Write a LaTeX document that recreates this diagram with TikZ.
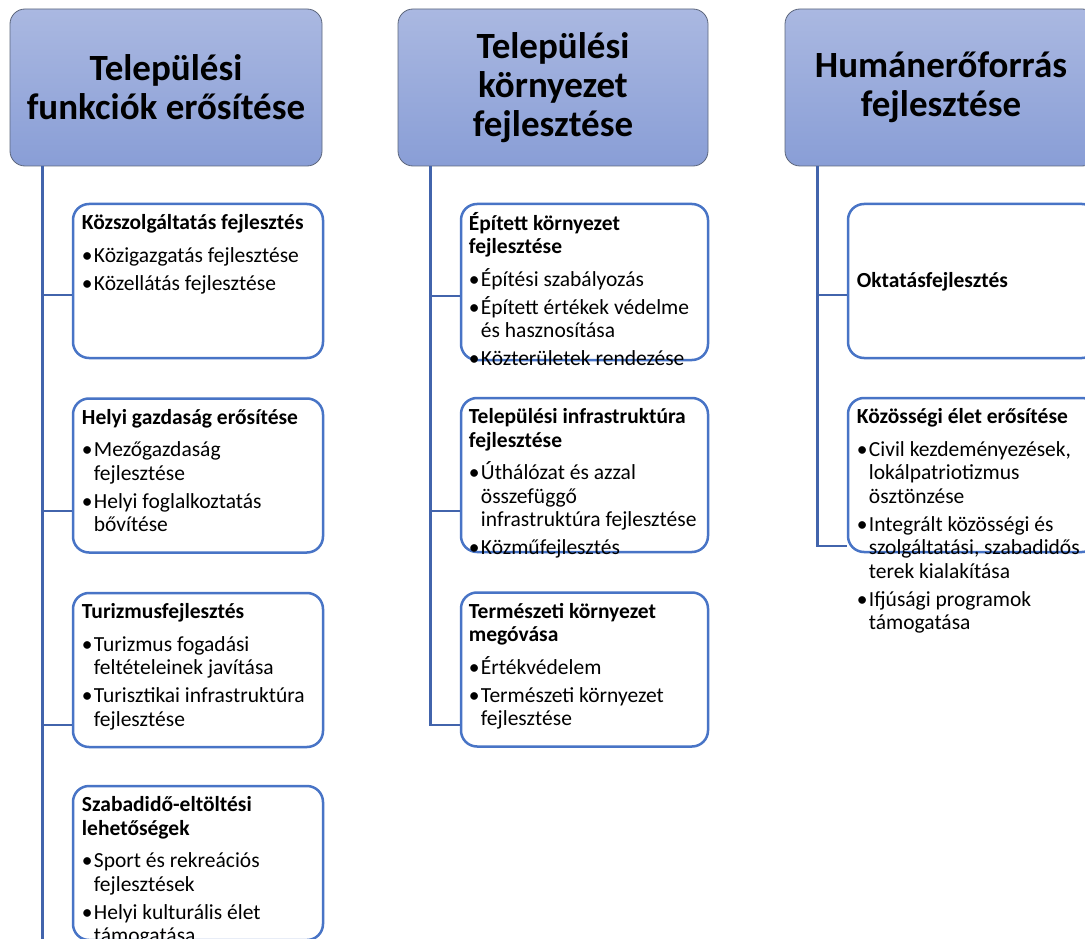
\documentclass[tikz,border=0pt]{standalone}
\usepackage{fontspec}
\setmainfont{Carlito}
\usetikzlibrary{calc}

\definecolor{headtop}{RGB}{170,184,225}
\definecolor{headbot}{RGB}{137,158,214}
\definecolor{headline}{RGB}{92,102,124}
\definecolor{boxline}{RGB}{72,116,198}
\definecolor{linkblue}{RGB}{66,100,172}

\newcommand\ttl[1]{\rule{0pt}{18pt}\textbf{#1}}
\newcommand\bul{\makebox[12pt][l]{\textbullet}}
\newcommand\ind{\hspace*{12pt}}

\tikzset{
  head/.style={draw=headline, line width=0.8pt, rounded corners=15pt,
    top color=headtop, bottom color=headbot, minimum width=312pt,
    minimum height=157pt, inner sep=0pt, align=center,
    font=\fontsize{37}{39}\selectfont\bfseries},
  item/.style={draw=boxline, line width=2.5pt, fill=white, rounded corners=16pt,
    minimum width=250pt, minimum height=154pt, inner sep=0pt},
  itemtext/.style={anchor=north west, inner sep=0pt, align=left,
    font=\fontsize{21.5}{23.5}\selectfont},
  link/.style={draw=linkblue, line width=2.5pt},
}

\begin{document}
\begin{tikzpicture}[x=1pt,y=-1pt]
    \useasboundingbox (0,0) rectangle (1085,939);
    \fill[white] (0,0) rectangle (1085,939);
    \clip (0,0) rectangle (1085,939);

    % headers
    \node[head] (h1) at (166,87.5) {Települési\\funkciók erősítése};
    \node[head, minimum width=310pt] (h2) at (553,87.5) {Települési\\környezet\\fejlesztése};
    \node[head] (h3) at (941,87.5) {Humánerőforrás\\fejlesztése};

    % boxes
    \node[item] (b11) at (198,281) {};
    \node[item] (b12) at (198,475.5) {};
    \node[item] (b13) at (198,670) {};
    \node[item] (b14) at (198,863) {};
    \node[item, minimum width=247pt, minimum height=156pt] (b21) at (584.5,282) {};
    \node[item, minimum width=247pt] (b22) at (584.5,475) {};
    \node[item, minimum width=247pt] (b23) at (584.5,669.5) {};
    \node[item] (b31) at (973,281) {};
    \node[item] (b32) at (973,475) {};

    % connectors
    \coordinate (r1) at ($(h1.south west)+(33,0)$);
    \coordinate (r2) at ($(h2.south west)+(33,0)$);
    \coordinate (r3) at ($(h3.south west)+(33,0)$);
    \coordinate (j11) at (b11.west |- 0,295);
    \coordinate (j12) at (b12.west |- 0,511);
    \coordinate (j13) at (b13.west |- 0,725);
    \coordinate (j14) at (b14.west |- 0,960);
    \coordinate (j21) at (b21.west |- 0,296);
    \coordinate (j22) at (b22.west |- 0,511);
    \coordinate (j23) at (b23.west |- 0,725);
    \coordinate (j31) at (b31.west |- 0,295);
    \coordinate (j32) at (b32.west |- 0,546);
    \draw[link] (r1) |- (j14);
    \draw[link] (r1 |- j11) -- (j11);
    \draw[link] (r1 |- j12) -- (j12);
    \draw[link] (r1 |- j13) -- (j13);
    \draw[link] (r2) |- (j23);
    \draw[link] (r2 |- j21) -- (j21);
    \draw[link] (r2 |- j22) -- (j22);
    \draw[link] (r3) |- (j32);
    \draw[link] (r3 |- j31) -- (j31);

    % box texts
    \node[itemtext] (t11) at ($(b11.north west)+(10,9)$) {\ttl{Közszolgáltatás fejlesztés}\\[9pt]
      \bul Közigazgatás fejlesztése\\[4.5pt]
      \bul Közellátás fejlesztése};
    \node[itemtext] (t12) at ($(b12.north west)+(10,9)$) {\ttl{Helyi gazdaság erősítése}\\[9pt]
      \bul Mezőgazdaság\\ \ind fejlesztése\\[4.5pt]
      \bul Helyi foglalkoztatás\\ \ind bővítése};
    \node[itemtext] (t13) at ($(b13.north west)+(10,9)$) {\ttl{Turizmusfejlesztés}\\[9pt]
      \bul Turizmus fogadási\\ \ind feltételeinek javítása\\[4.5pt]
      \bul Turisztikai infrastruktúra\\ \ind fejlesztése};
    \node[itemtext] (t14) at ($(b14.north west)+(10,9)$) {\ttl{Szabadidő-eltöltési}\\ \textbf{lehetőségek}\\[9pt]
      \bul Sport és rekreációs\\ \ind fejlesztések\\[4.5pt]
      \bul Helyi kulturális élet\\ \ind támogatása};
    \node[itemtext] (t21) at ($(b21.north west)+(9,9)$) {\ttl{Épített környezet}\\ \textbf{fejlesztése}\\[9pt]
      \bul Építési szabályozás\\[4.5pt]
      \bul Épített értékek védelme\\ \ind és hasznosítása\\[4.5pt]
      \bul Közterületek rendezése};
    \node[itemtext] (t22) at ($(b22.north west)+(9,9)$) {\ttl{Települési infrastruktúra}\\ \textbf{fejlesztése}\\[9pt]
      \bul Úthálózat és azzal\\ \ind összefüggő\\ \ind infrastruktúra fejlesztése\\[4.5pt]
      \bul Közműfejlesztés};
    \node[itemtext] (t23) at ($(b23.north west)+(9,9)$) {\ttl{Természeti környezet}\\ \textbf{megóvása}\\[9pt]
      \bul Értékvédelem\\[4.5pt]
      \bul Természeti környezet\\ \ind fejlesztése};
    \node[itemtext, anchor=west] (t31) at ($(b31.west)+(10,1)$) {\textbf{Oktatásfejlesztés}};
    \node[itemtext] (t32) at ($(b32.north west)+(10,9)$) {\ttl{Közösségi élet erősítése}\\[9pt]
      \bul Civil kezdeményezések,\\ \ind lokálpatriotizmus\\ \ind ösztönzése\\[4.5pt]
      \bul Integrált közösségi és\\ \ind szolgáltatási, szabadidős\\ \ind terek kialakítása\\[4.5pt]
      \bul Ifjúsági programok\\ \ind támogatása};
\end{tikzpicture}
\end{document}
